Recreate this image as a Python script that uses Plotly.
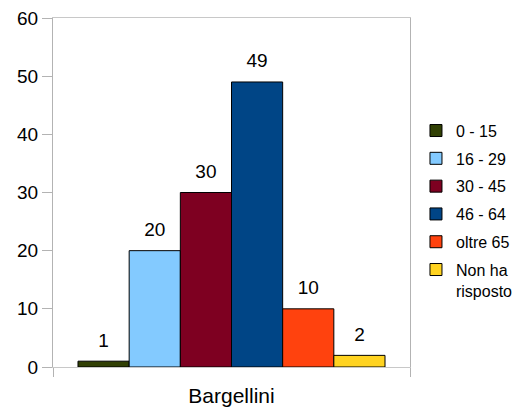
import plotly.graph_objects as go

categories = ["Bargellini"]
series_names = ["0 - 15", "16 - 29", "30 - 45", "46 - 64", "oltre 65", "Non ha<br>risposto"]
series_values = [1, 20, 30, 49, 10, 2]
series_colors = ["#314004", "#83caff", "#7e0021", "#004586", "#ff420e", "#ffd320"]
y_ticks = [0, 10, 20, 30, 40, 50, 60]

FONT = "Liberation Sans, Arial, sans-serif"

fig = go.Figure()
for name, val, col in zip(series_names, series_values, series_colors):
    fig.add_trace(go.Bar(
        x=categories, y=[val], name=name,
        marker=dict(color=col, line=dict(color="#000000", width=1)),
        legendgroup=name,
    ))
for name, val in zip(series_names, series_values):
    fig.add_trace(go.Scatter(
        x=categories, y=[val], mode="markers+text",
        marker=dict(size=14, opacity=0),
        text=[str(val)], textposition="top center",
        textfont=dict(family=FONT, size=19, color="#000000"),
        cliponaxis=False, showlegend=False, hoverinfo="skip",
    ))

fig.update_layout(
    width=519, height=409,
    margin=dict(l=53, r=109, t=18, b=42, autoexpand=False),
    paper_bgcolor="white", plot_bgcolor="white",
    barmode="group", bargap=0.14, bargroupgap=0,
    scattermode="group", scattergap=0.14,
    font=dict(family=FONT, color="#000000"),
    showlegend=True,
    legend=dict(x=0.8015, xanchor="left", xref="container", y=0.726, yanchor="top",
                font=dict(family=FONT, size=16, color="#000000"),
                tracegroupgap=4, itemwidth=30, valign="top"),
)
fig.update_yaxes(range=[0, 60], tickvals=y_ticks, ticks="outside", ticklen=10,
                 tickcolor="#b3b3b3", showline=True, linecolor="#b3b3b3", linewidth=1,
                 mirror=True, showgrid=False, zeroline=False, automargin=False,
                 tickfont=dict(family=FONT, size=19, color="#000000"))
fig.update_xaxes(ticks="outside", tickson="boundaries", ticklen=9, tickcolor="#b3b3b3",
                 showline=True, linecolor="#c8c8c8", linewidth=1, mirror=True,
                 showgrid=False, automargin=False, ticklabelstandoff=10,
                 tickfont=dict(family=FONT, size=21, color="#000000"))

fig.write_html("out.html", config={"displayModeBar": False},
               post_script="document.body.style.margin='0';document.body.style.overflow='hidden';")
